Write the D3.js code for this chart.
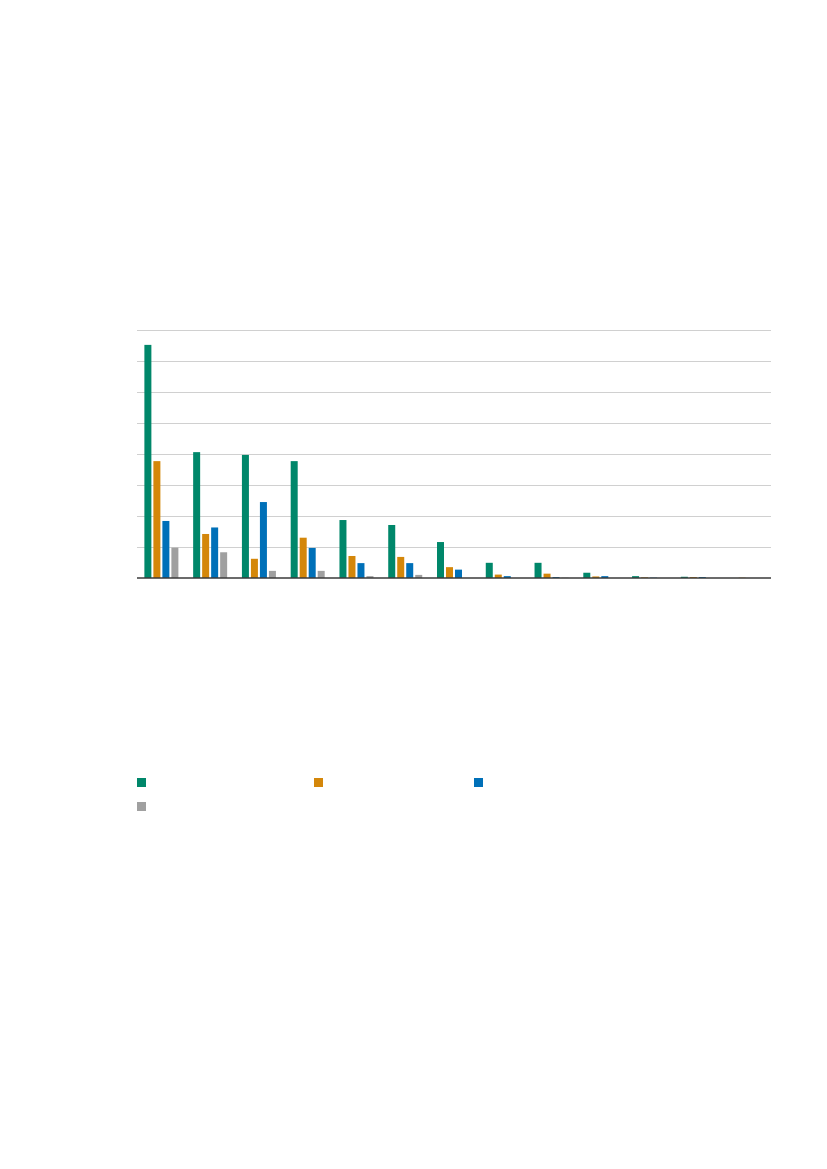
<!DOCTYPE html>
<html>
<head>
<meta charset="utf-8">
<script src="https://cdn.jsdelivr.net/npm/d3@7"></script>
<style>
  html, body { margin: 0; padding: 0; background: #fff; }
  svg { display: block; }
</style>
</head>
<body>
<div id="chart"></div>
<script>
// categories (no labels shown in the reference)
const categories = d3.range(1, 14).map(i => "c" + i);
const seriesNames = ["s1", "s2", "s3", "s4"];
const seriesColors = ["#00876a", "#d4870a", "#0070b8", "#a0a0a0"];

// values in gridline units
const s1 = [7.52, 4.06, 3.97, 3.77, 1.87, 1.71, 1.16, 0.49, 0.49, 0.17, 0.06, 0.04, 0.00];
const s2 = [3.77, 1.42, 0.62, 1.30, 0.71, 0.68, 0.35, 0.11, 0.14, 0.05, 0.02, 0.03, 0.01];
const s3 = [1.84, 1.63, 2.45, 0.97, 0.48, 0.48, 0.27, 0.06, 0.03, 0.06, 0.01, 0.03, 0.00];
const s4 = [0.98, 0.83, 0.23, 0.23, 0.06, 0.10, 0.00, 0.00, 0.01, 0.00, 0.00, 0.00, 0.00];
const yTicks = d3.range(0, 9);

const series = [s1, s2, s3, s4];

const W = 827, H = 1169;
const plot = { left: 137, right: 771, top: 330, bottom: 578 };

const svg = d3.select("#chart").append("svg")
    .attr("width", W)
    .attr("height", H);

const x = d3.scaleBand()
    .domain(categories)
    .range([plot.left, plot.right]);

const xInner = d3.scaleBand()
    .domain(seriesNames)
    .range([0, 34])
    .paddingInner(2 / 9);

const y = d3.scaleLinear()
    .domain([0, 8])
    .range([plot.bottom, plot.top]);

// gridlines
svg.append("g")
    .selectAll("line")
    .data(yTicks.filter(d => d > 0))
    .enter()
    .append("line")
    .attr("x1", plot.left)
    .attr("x2", plot.right)
    .attr("y1", d => y(d) + 0.5)
    .attr("y2", d => y(d) + 0.5)
    .attr("stroke", "#d0d0d0")
    .attr("stroke-width", 1);

// bars
const groupOffset = (x.bandwidth() - 34) / 2;
const groups = svg.append("g")
    .selectAll("g")
    .data(categories)
    .enter()
    .append("g")
    .attr("transform", d => `translate(${x(d) + groupOffset},0)`);

groups.selectAll("rect")
    .data((d, i) => seriesNames.map((s, j) => ({ s, j, v: series[j][i] })))
    .enter()
    .append("rect")
    .attr("x", d => xInner(d.s))
    .attr("width", xInner.bandwidth())
    .attr("y", d => y(d.v))
    .attr("height", d => y(0) - y(d.v))
    .attr("fill", d => seriesColors[d.j]);

// baseline
svg.append("line")
    .attr("x1", plot.left)
    .attr("x2", plot.right)
    .attr("y1", y(0))
    .attr("y2", y(0))
    .attr("stroke", "#3a3a3a")
    .attr("stroke-width", 1.3);

// legend swatches (legend text is not present in the reference)
const legendPos = [[137, 778], [314, 778], [474, 778], [137, 802]];
svg.append("g")
    .selectAll("rect")
    .data(seriesNames)
    .enter()
    .append("rect")
    .attr("x", (d, i) => legendPos[i][0])
    .attr("y", (d, i) => legendPos[i][1])
    .attr("width", 9)
    .attr("height", 9)
    .attr("fill", (d, i) => seriesColors[i]);
</script>
</body>
</html>
